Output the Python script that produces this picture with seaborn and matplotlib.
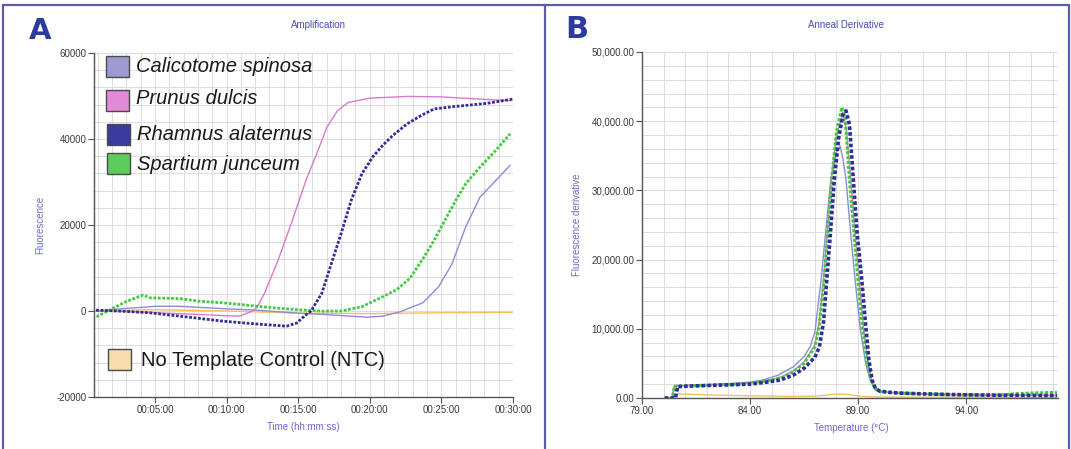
import numpy as np
import pandas as pd
import matplotlib
matplotlib.use('Agg')
import matplotlib.pyplot as plt
import seaborn as sns
from matplotlib.patches import Rectangle
from matplotlib.lines import Line2D
from matplotlib.ticker import MultipleLocator, FixedLocator, FuncFormatter

# ── Panel A: amplification (time in minutes, fluorescence) ─────────────────
amp_cal_t = [0.9, 3.0, 5.1, 6.7, 10.0, 12.1, 15.0, 16.75, 19.8, 20.9, 22.1, 23.7, 24.8,
             25.75, 26.7, 27.7, 28.7, 29.8]
amp_cal_y = [0, 600, 1100, 1100, 500, 200, -500, -800, -1440, -1200, -200, 1900, 5600,
             11000, 19600, 26500, 30000, 33900]

amp_pru_t = [0.9, 3.0, 5.0, 8.0, 10.0, 10.9, 11.84, 12.16, 12.65, 13.6, 14.6, 15.55, 16.3,
             17.0, 17.75, 18.5, 20.0, 22.6, 25.0, 27.5, 29.9]
amp_pru_y = [0, -100, -400, -800, -1100, -1200, 0, 1000, 4100, 11800, 21100, 30400, 36600,
             42700, 46600, 48500, 49500, 49900, 49800, 49300, 48900]

amp_rha_t = [0.9, 3.0, 4.65, 7.0, 9.77, 12.0, 14.2, 14.9, 15.5, 15.9, 16.65, 17.25, 18.0,
             18.7, 19.45, 20.2, 20.9, 21.6, 22.6, 23.6, 24.5, 25.75, 28.2, 30.0]
amp_rha_y = [200, -100, -420, -1300, -2370, -3000, -3530, -2800, -1000, 0, 4100, 10300, 18000,
             25700, 31900, 35800, 38500, 40800, 43500, 45500, 47000, 47500, 48300, 49300]

amp_spa_t = [0.93, 2.0, 3.0, 4.18, 4.65, 6.74, 8.0, 9.77, 13.25, 15.0, 16.75, 18.0, 19.45,
             20.9, 21.9, 22.8, 23.8, 24.5, 25.25, 26.0, 26.7, 27.7, 28.7, 29.8]
amp_spa_y = [-1350, 500, 2200, 3700, 3070, 2900, 2300, 1900, 740, 300, -50, 0, 1000,
             3300, 5000, 7600, 12600, 16500, 21100, 25700, 29600, 33500, 37000, 41200]

amp_ntc_t = [0.9, 5.0, 10.0, 15.0, 20.0, 25.0, 30.0]
amp_ntc_y = [0, 300, 0, -500, -600, -400, -300]

# ── Panel B: anneal derivative (temperature, derivative) ───────────────────
der_cal_t = [80.05, 80.4, 80.5, 81, 82, 83, 84, 84.6, 85.3, 86, 86.5, 86.78, 87.0, 87.29, 87.5,
             87.74, 88.0, 88.17, 88.3, 88.44, 88.65, 88.86, 89.1, 89.35, 89.56, 89.8, 90.0, 91,
             92, 94, 96, 98.2]
der_cal_y = [0, 0, 1750, 1800, 1900, 2050, 2300, 2600, 3300, 4500, 6000, 7400, 9500, 17100,
             24000, 31600, 35500, 36400, 34500, 31600, 24000, 17100, 10000, 5000, 2600, 1200,
             900, 680, 580, 460, 400, 360]

der_pru_t = [80.05, 80.4, 80.5, 81, 82, 83, 84, 85, 85.5, 86, 86.5, 87.0, 87.2, 87.4, 87.6,
             87.76, 88.0, 88.3, 88.45, 88.66, 88.85, 89.05, 89.25, 89.45, 89.62, 89.8, 90.0, 91,
             92, 94, 96, 98.2]
der_pru_y = [0, 0, 1750, 1800, 1900, 2000, 2150, 2650, 3100, 3900, 5200, 7700, 11000, 17100,
             25000, 31600, 38000, 41000, 39000, 31600, 24000, 17100, 10000, 5000, 2600, 1300,
             950, 700, 600, 470, 420, 380]

der_rha_t = [80.05, 80.55, 80.65, 81, 82, 83, 84, 84.8, 85.4, 86, 86.5, 87.0, 87.21, 87.4,
             87.55, 87.7, 87.9, 88.1, 88.3, 88.44, 88.6, 88.78, 88.95, 89.17, 89.35, 89.5, 89.65,
             89.8, 90.0, 90.5, 91, 92, 93, 94, 95, 96, 97, 98.2]
der_rha_y = [0, 0, 1650, 1700, 1800, 1900, 2000, 2300, 2600, 3300, 4300, 5900, 7400, 11000,
             17100, 23000, 31600, 37500, 41000, 41500, 39500, 31600, 24000, 17100, 10500, 5500,
             2600, 1400, 1000, 800, 700, 600, 520, 460, 420, 390, 370, 350]

der_spa_t = [80.05, 80.4, 80.5, 81, 82, 83, 84, 85, 85.5, 86, 86.5, 87.0, 87.2, 87.43, 87.6,
             87.78, 88.0, 88.25, 88.4, 88.6, 88.8, 88.99, 89.2, 89.4, 89.6, 89.8, 90.0, 91, 92,
             93, 94, 95, 95.7, 96.3, 97, 97.8, 98.2]
der_spa_y = [0, 0, 1700, 1750, 1850, 1950, 2100, 2600, 3000, 3800, 5000, 7400, 10500, 17100,
             24000, 31600, 38500, 42000, 40500, 31600, 24000, 17100, 10000, 5500, 2600, 1300,
             950, 700, 600, 520, 460, 430, 450, 620, 720, 800, 780]

der_ntc_t = [80.5, 80.6, 81, 82, 83, 84, 85, 86, 87, 87.5, 88, 88.5, 89, 89.5, 90, 92, 94, 96, 98.2]
der_ntc_y = [0, 600, 550, 450, 380, 320, 270, 230, 260, 400, 580, 500, 300, 180, 140, 120, 110,
             100, 100]

der_ticks = [79, 84, 89, 94]

samples = ['No Template Control (NTC)', 'Calicotome spinosa', 'Prunus dulcis',
           'Spartium junceum', 'Rhamnus alaternus']
line_colors = {'No Template Control (NTC)': '#f2c062', 'Calicotome spinosa': '#8e8cd2',
               'Prunus dulcis': '#dc78cc', 'Spartium junceum': '#3fca3f',
               'Rhamnus alaternus': '#2e2e96'}
patch_colors = {'No Template Control (NTC)': '#f6dbad', 'Calicotome spinosa': '#9c9ad0',
                'Prunus dulcis': '#e08ad8', 'Spartium junceum': '#5ccc5c',
                'Rhamnus alaternus': '#3b3b9e'}
dash_map = {'No Template Control (NTC)': '', 'Calicotome spinosa': '', 'Prunus dulcis': '',
            'Spartium junceum': (1.0, 0.6), 'Rhamnus alaternus': (1.0, 0.6)}
width_a = {'No Template Control (NTC)': 1.0, 'Calicotome spinosa': 1.0, 'Prunus dulcis': 1.0,
           'Spartium junceum': 2.0, 'Rhamnus alaternus': 2.0}
width_b = {'No Template Control (NTC)': 1.0, 'Calicotome spinosa': 1.0, 'Prunus dulcis': 1.0,
           'Spartium junceum': 2.2, 'Rhamnus alaternus': 2.6}


def long_table(pairs):
    frames = []
    for name, (xs, ys) in pairs.items():
        frames.append(pd.DataFrame({'x': xs, 'y': ys, 'sample': name}))
    return pd.concat(frames, ignore_index=True)


amp = long_table({
    'No Template Control (NTC)': (amp_ntc_t, amp_ntc_y),
    'Calicotome spinosa': (amp_cal_t, amp_cal_y),
    'Prunus dulcis': (amp_pru_t, amp_pru_y),
    'Spartium junceum': (amp_spa_t, amp_spa_y),
    'Rhamnus alaternus': (amp_rha_t, amp_rha_y),
})
der = long_table({
    'No Template Control (NTC)': (der_ntc_t, der_ntc_y),
    'Calicotome spinosa': (der_cal_t, der_cal_y),
    'Prunus dulcis': (der_pru_t, der_pru_y),
    'Spartium junceum': (der_spa_t, der_spa_y),
    'Rhamnus alaternus': (der_rha_t, der_rha_y),
})

sns.set_style('white')
plt.rcParams['font.family'] = ['Liberation Sans', 'DejaVu Sans']

W, H = 1071, 449
fig = plt.figure(figsize=(W / 100, H / 100), dpi=100)
fig.patch.set_facecolor('white')


def fx(px):
    return px / W


def fy(py):
    return 1 - py / H


TITLE_C = '#4b4bb8'
LABEL_C = '#6a6ad0'
TICK_C = '#3a3a3a'


def style_axes(ax):
    for s in ['top', 'right']:
        ax.spines[s].set_visible(False)
    for s in ['left', 'bottom']:
        ax.spines[s].set_color('#555555')
        ax.spines[s].set_linewidth(1.0)
    ax.grid(True, which='both', color='#dcdcdc', linewidth=0.7)
    ax.set_axisbelow(True)
    ax.tick_params(which='major', direction='out', length=4, width=0.8, color='#555555',
                   labelsize=7, labelcolor=TICK_C, pad=1.5, left=True, bottom=True)
    ax.tick_params(which='minor', length=0)
    ax.set_xlabel('')
    ax.set_ylabel('')


# ── Panel A ────────────────────────────────────────────────────────────────
axA = fig.add_axes([fx(94), fy(397), fx(513) - fx(94), fy(53) - fy(397)])
sns.lineplot(data=amp, x='x', y='y', hue='sample', style='sample', size='sample',
             hue_order=samples, style_order=samples, size_order=samples,
             palette=line_colors, dashes=dash_map, sizes=width_a,
             estimator=None, legend=False, ax=axA)
axA.set_xlim(0.75, 30)
axA.set_ylim(-20000, 60000)
axA.xaxis.set_major_locator(MultipleLocator(5))
axA.xaxis.set_minor_locator(MultipleLocator(1))
axA.yaxis.set_major_locator(MultipleLocator(20000))
axA.yaxis.set_minor_locator(MultipleLocator(4000))
axA.xaxis.set_major_formatter(FuncFormatter(lambda v, p: f'00:{int(round(v)):02d}:00'))
axA.yaxis.set_major_formatter(FuncFormatter(lambda v, p: f'{int(v)}'))
style_axes(axA)

# ── Panel B ────────────────────────────────────────────────────────────────
axB = fig.add_axes([fx(642), fy(398), fx(1058) - fx(642), fy(52) - fy(398)])
sns.lineplot(data=der, x='x', y='y', hue='sample', style='sample', size='sample',
             hue_order=samples, style_order=samples, size_order=samples,
             palette=line_colors, dashes=dash_map, sizes=width_b,
             estimator=None, legend=False, ax=axB)
axB.set_xlim(79, 98.25)
axB.set_ylim(0, 50000)
axB.xaxis.set_major_locator(FixedLocator(der_ticks))
axB.xaxis.set_minor_locator(FixedLocator(list(range(79, 99))))
axB.yaxis.set_major_locator(MultipleLocator(10000))
axB.yaxis.set_minor_locator(MultipleLocator(2000))
axB.xaxis.set_major_formatter(FuncFormatter(lambda v, p: f'{v:.2f}'))
axB.yaxis.set_major_formatter(FuncFormatter(lambda v, p: f'{v:,.2f}'))
style_axes(axB)

# ── Titles and axis labels ─────────────────────────────────────────────────
fig.text(fx(318), fy(25), 'Amplification', ha='center', va='center', fontsize=7, color=TITLE_C)
fig.text(fx(846), fy(25), 'Anneal Derivative', ha='center', va='center', fontsize=7,
         color=TITLE_C)
fig.text(fx(303), fy(427), 'Time (hh:mm:ss)', ha='center', va='center', fontsize=7,
         color=LABEL_C)
fig.text(fx(851), fy(428), 'Temperature (°C)', ha='center', va='center', fontsize=7,
         color=LABEL_C)
fig.text(fx(40), fy(225), 'Fluorescence', ha='center', va='center', rotation=90, fontsize=7,
         color=LABEL_C)
fig.text(fx(577), fy(225), 'Fluorescence derivative', ha='center', va='center', rotation=90,
         fontsize=7, color=LABEL_C)

fig.text(fx(40), fy(31), 'A', ha='center', va='center', fontsize=21, fontweight='bold',
         color='#2b3b9e', family='DejaVu Sans')
fig.text(fx(577), fy(30), 'B', ha='center', va='center', fontsize=22, fontweight='bold',
         color='#2b3b9e', family='DejaVu Sans')

# ── Legend in panel A ──────────────────────────────────────────────────────
legend_rows = [('Calicotome spinosa', 106, 56, 67, True),
               ('Prunus dulcis', 106, 90, 99, True),
               ('Rhamnus alaternus', 107, 124, 134, True),
               ('Spartium junceum', 107, 153, 165, True),
               ('No Template Control (NTC)', 108, 349, 361, False)]
for name, px0, py0, ty, italic in legend_rows:
    fig.add_artist(Rectangle((fx(px0), fy(py0 + 21)), 23 / W, 21 / H,
                             transform=fig.transFigure, facecolor=patch_colors[name],
                             edgecolor='#4a4a4a', linewidth=1.0, zorder=5))
    fig.text(fx(px0 + 30 if italic else px0 + 33), fy(ty), name, ha='left', va='center',
             fontsize=14.5, style='italic' if italic else 'normal', color='#1a1a1a',
             zorder=6)

# ── Panel frames ───────────────────────────────────────────────────────────
frame_c = '#5c5caa'
for xs, ys in [([3, 1069], [5, 5]), ([3, 3], [5, 449]), ([545, 545], [5, 449]),
               ([1069, 1069], [5, 449])]:
    fig.add_artist(Line2D([fx(v) for v in xs], [fy(v) for v in ys], color=frame_c,
                          linewidth=1.6, transform=fig.transFigure))

fig.savefig('out.png', dpi=100)
